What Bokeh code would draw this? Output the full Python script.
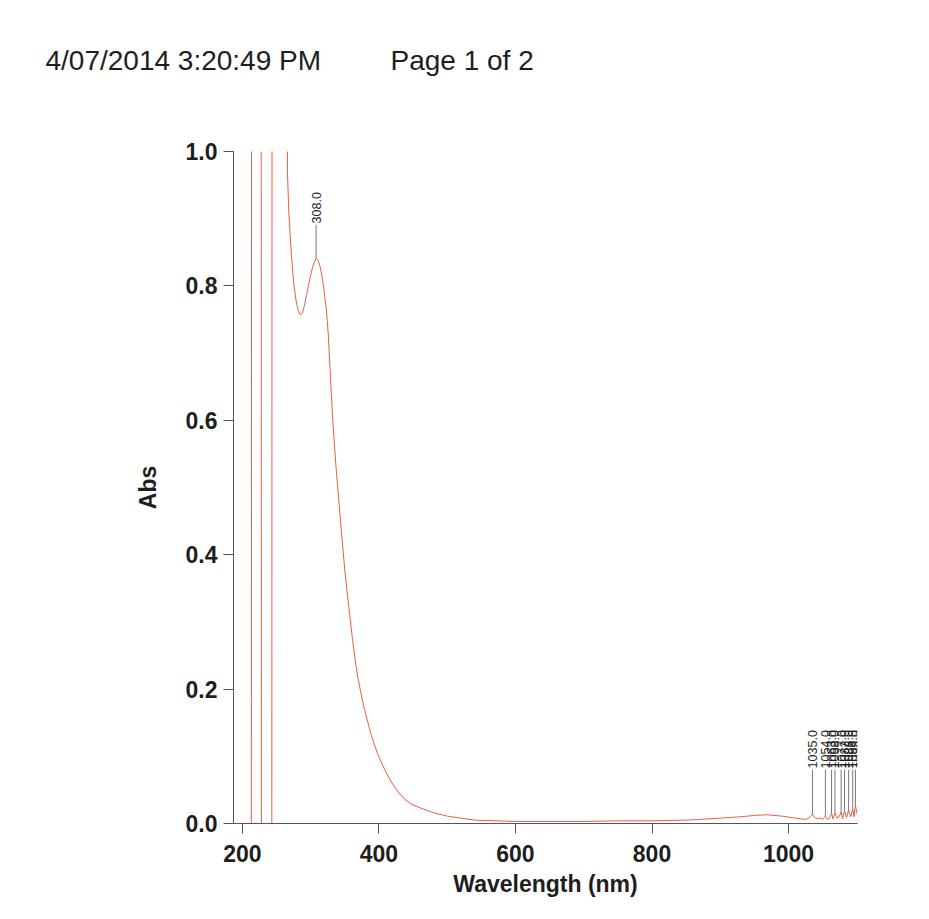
import numpy as np
from bokeh.plotting import figure
from bokeh.layouts import column
from bokeh.models import FixedTicker, PrintfTickFormatter, Range1d
from bokeh.core.properties import value
from bokeh.embed import file_html
from bokeh.resources import INLINE

# ---- data ----
wavelength = [187, 213, 214, 227, 228, 243, 244, 265, 266, 268, 270, 272, 274, 276, 279,
              282, 285, 288, 291, 294, 297, 300, 303, 306, 308, 311, 314, 317, 320, 323,
              326, 329, 332, 335, 338, 341, 344, 347, 350, 353, 357, 361, 366, 370, 375,
              382, 389, 398, 408, 418, 428, 437, 447, 461, 480, 500, 520, 540, 570, 600,
              650, 700, 750, 800, 850, 870, 900, 930, 950, 968, 990, 1010, 1025, 1030, 1035,
              1038, 1042, 1046, 1050, 1054, 1057, 1060, 1063, 1065, 1068, 1071, 1074, 1077,
              1079, 1082, 1085, 1088, 1091, 1094, 1096, 1098, 1100]
absorbance = [-0.5, -0.5, 3.0, 3.0, -0.5, -0.5, 3.0, 3.0, 0.97, 0.91, 0.875, 0.845, 0.818, 0.797, 0.776,
              0.763, 0.757, 0.760, 0.771, 0.786, 0.802, 0.816, 0.828, 0.837, 0.841, 0.838, 0.828, 0.812, 0.790, 0.765,
              0.725, 0.665, 0.607, 0.560, 0.520, 0.484, 0.447, 0.412, 0.377, 0.349, 0.3125, 0.277, 0.237, 0.213, 0.187,
              0.157, 0.131, 0.104, 0.081, 0.062, 0.047, 0.037, 0.029, 0.023, 0.016, 0.011, 0.008, 0.005, 0.004, 0.003,
              0.003, 0.003, 0.004, 0.004, 0.005, 0.006, 0.008, 0.010, 0.012, 0.013, 0.011, 0.008, 0.006, 0.008, 0.014,
              0.009, 0.007, 0.008, 0.006, 0.011, 0.006, 0.008, 0.015, 0.007, 0.016, 0.008, 0.010, 0.017,
              0.007, 0.019, 0.009, 0.020, 0.010, 0.022, 0.010, 0.028, 0.015]

peak_wavelengths = [308.0, 1035.0, 1054.0, 1063.0, 1068.0, 1077.0, 1082.0, 1088.0, 1094.0, 1098.0]

x_ticks = [200, 400, 600, 800, 1000]
y_ticks = [0.0, 0.2, 0.4, 0.6, 0.8, 1.0]

header_texts = ["4/07/2014 3:20:49 PM", "Page 1 of 2"]
x_label = "Wavelength (nm)"
y_label = "Abs"

FONT = "Liberation Sans"
TXT = "#1e1e1e"
AX = "#555555"
W = 921

# ---- header strip (its own figure, coordinates in pixels) ----
head = figure(width=W, height=90, x_range=Range1d(0, W), y_range=Range1d(90, 0),
              output_backend="svg", toolbar_location=None,
              x_axis_location=None, y_axis_location=None,
              min_border=0)
head.frame_align = False
head.outline_line_color = None
head.xgrid.visible = False
head.ygrid.visible = False
head.text(x=[45, 390], y=[60, 60], text=header_texts,
          text_font=value(FONT), text_font_size="28px", text_color=TXT,
          text_align="left", text_baseline="middle")

# ---- spectrum ----
p = figure(width=W, height=821,
           x_range=Range1d(187, 1101), y_range=Range1d(0, 1.0),
           output_backend="svg", toolbar_location=None,
           min_border_left=233, min_border_right=64,
           min_border_top=61, min_border_bottom=88)
p.frame_align = False
p.outline_line_color = None
p.xgrid.visible = False
p.ygrid.visible = False

p.line(wavelength, absorbance, line_color="#ec5d48", line_width=1.0)

# peak markers
peak_abs = np.interp(peak_wavelengths, wavelength, absorbance)
label_base = [max(a + 0.05, 0.08) for a in peak_abs]
p.segment(x0=peak_wavelengths, y0=list(peak_abs), x1=peak_wavelengths, y1=label_base,
          line_color="#555555", line_width=0.8)
p.text(x=peak_wavelengths, y=[b + 0.002 for b in label_base],
       text=["%.1f" % w for w in peak_wavelengths],
       angle=np.pi / 2, text_align="left", text_baseline="middle",
       text_font=value(FONT), text_font_size="12.5px", text_color=TXT)

# axes styling
for ax in (p.xaxis[0], p.yaxis[0]):
    ax.axis_line_color = AX
    ax.axis_line_width = 1
    ax.major_tick_line_color = AX
    ax.major_tick_out = 10
    ax.major_tick_in = 0
    ax.minor_tick_line_color = None
    ax.major_label_text_font = FONT
    ax.major_label_text_font_style = "bold"
    ax.major_label_text_font_size = "23px"
    ax.major_label_text_color = TXT
    ax.axis_label_text_font = FONT
    ax.axis_label_text_font_style = "bold"
    ax.axis_label_text_font_size = "23px"
    ax.axis_label_text_color = TXT

p.xaxis.ticker = FixedTicker(ticks=x_ticks)
p.yaxis.ticker = FixedTicker(ticks=y_ticks)
p.yaxis.formatter = PrintfTickFormatter(format="%.1f")
p.xaxis.axis_label = x_label
p.yaxis.axis_label = y_label
p.xaxis.major_label_standoff = 11
p.xaxis.axis_label_standoff = 6
p.yaxis.major_label_standoff = 6
p.yaxis.axis_label_standoff = 22

layout = column(head, p, spacing=0)
open("out.html", "w").write(file_html(layout, INLINE))
